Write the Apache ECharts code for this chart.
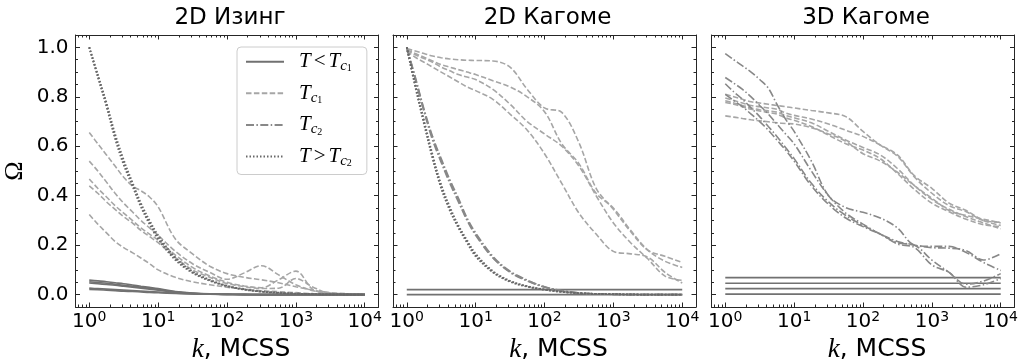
<!DOCTYPE html>
<html><head><meta charset="utf-8">
<script src="https://cdn.jsdelivr.net/npm/echarts@6/dist/echarts.min.js"></script>
<style>html,body{margin:0;padding:0;background:#fff}#c{width:1022px;height:362px}</style>
</head><body><div id="c"></div>
<script>
// ---- data ----
const K = [1, 1.33, 1.78, 2.37, 3.16, 4.22, 5.62, 7.5, 10, 17.8, 31.6, 56.2, 100, 178, 316, 562, 1000, 1780, 3160, 5620, 10000];
const K_FLAT = [1, 10000];
const TITLES = ['2D Изинг', '2D Кагоме', '3D Кагоме'];
const X_MAJOR = [1, 10, 100, 1000, 10000];
const X_MINOR = [0.7, 0.8, 0.9, 2, 3, 4, 5, 6, 7, 8, 9, 20, 30, 40, 50, 60, 70, 80, 90,
  200, 300, 400, 500, 600, 700, 800, 900, 2000, 3000, 4000, 5000, 6000, 7000, 8000, 9000];
const Y_MAJOR = [0, 0.2, 0.4, 0.6, 0.8, 1.0];
const Y_MINOR = [0.05, 0.1, 0.15, 0.25, 0.3, 0.35, 0.45, 0.5, 0.55, 0.65, 0.7, 0.75, 0.85, 0.9, 0.95];
const LEGEND_NAMES = ['lt', 'c1', 'c2', 'gt'];

// Panel 1: 2D Ising
const ising_lt = [
  [0.059, 0.056, 0.052, 0.048, 0.044, 0.039, 0.034, 0.029, 0.024, 0.012, 0.006, 0.003, 0.002, 0.001, 0, 0, 0, 0, 0, 0, 0],
  [0.052, 0.049, 0.046, 0.042, 0.038, 0.034, 0.030, 0.025, 0.021, 0.011, 0.005, 0.003, 0.001, 0.001, 0, 0, 0, 0, 0, 0, 0],
  [0.047, 0.044, 0.041, 0.038, 0.034, 0.030, 0.026, 0.022, 0.018, 0.010, 0.005, 0.002, 0.001, 0, 0, 0, 0, 0, 0, 0, 0],
  [0.026, 0.024, 0.022, 0.020, 0.018, 0.016, 0.014, 0.012, 0.010, 0.006, 0.003, 0.002, 0.001, 0, 0, 0, 0, 0, 0, 0, 0],
  [0.021, 0.020, 0.018, 0.016, 0.014, 0.013, 0.011, 0.009, 0.008, 0.005, 0.003, 0.002, 0.001, 0, 0, 0, 0, 0, 0, 0, 0]
];
const ising_c1 = [
  [0.656, 0.61, 0.565, 0.52, 0.475, 0.44, 0.42, 0.395, 0.355, 0.225, 0.165, 0.115, 0.085, 0.07, 0.06, 0.048, 0.032, 0.018, 0.008, 0.004, 0.002],
  [0.54, 0.50, 0.455, 0.41, 0.37, 0.335, 0.30, 0.27, 0.24, 0.175, 0.125, 0.09, 0.062, 0.088, 0.117, 0.08, 0.04, 0.016, 0.006, 0.003, 0.001],
  [0.468, 0.43, 0.395, 0.36, 0.33, 0.30, 0.27, 0.245, 0.22, 0.16, 0.11, 0.075, 0.05, 0.035, 0.028, 0.06, 0.095, 0.02, 0.006, 0.002, 0.001],
  [0.44, 0.41, 0.375, 0.345, 0.315, 0.29, 0.26, 0.235, 0.21, 0.15, 0.10, 0.07, 0.045, 0.032, 0.025, 0.026, 0.065, 0.03, 0.005, 0.002, 0.001],
  [0.324, 0.285, 0.25, 0.215, 0.19, 0.17, 0.148, 0.125, 0.10, 0.07, 0.052, 0.04, 0.03, 0.022, 0.016, 0.012, 0.008, 0.004, 0.002, 0.001, 0]
];
const ising_gt = [
  [1.0, 0.88, 0.76, 0.63, 0.525, 0.44, 0.355, 0.285, 0.225, 0.14, 0.088, 0.056, 0.034, 0.02, 0.012, 0.007, 0.004, 0.002, 0.001, 0.0005, 0],
  [1.0, 0.89, 0.775, 0.65, 0.545, 0.455, 0.37, 0.30, 0.24, 0.15, 0.094, 0.06, 0.036, 0.022, 0.013, 0.008, 0.004, 0.002, 0.001, 0.0005, 0],
  [1.0, 0.885, 0.768, 0.64, 0.535, 0.448, 0.362, 0.292, 0.232, 0.145, 0.091, 0.058, 0.035, 0.021, 0.012, 0.007, 0.004, 0.002, 0.001, 0.0005, 0]
];

// Panel 2: 2D Kagome
const kag2_lt = [
  [0.02, 0.02],
  [0.0, 0.0]
];
const kag2_c1 = [
  [0.995, 0.985, 0.975, 0.965, 0.958, 0.953, 0.95, 0.948, 0.947, 0.945, 0.92, 0.83, 0.755, 0.737, 0.615, 0.43, 0.345, 0.255, 0.18, 0.155, 0.13],
  [0.99, 0.975, 0.96, 0.945, 0.93, 0.92, 0.91, 0.90, 0.89, 0.865, 0.84, 0.80, 0.74, 0.61, 0.53, 0.41, 0.35, 0.26, 0.18, 0.135, 0.11],
  [0.99, 0.97, 0.955, 0.94, 0.92, 0.905, 0.89, 0.88, 0.87, 0.83, 0.77, 0.70, 0.65, 0.60, 0.52, 0.40, 0.29, 0.21, 0.145, 0.075, 0.058],
  [0.985, 0.96, 0.94, 0.92, 0.90, 0.88, 0.86, 0.84, 0.825, 0.79, 0.73, 0.665, 0.57, 0.45, 0.33, 0.245, 0.175, 0.165, 0.152, 0.09, 0.047]
];
const kag2_c2 = [
  [1.0, 0.88, 0.75, 0.64, 0.55, 0.465, 0.39, 0.31, 0.25, 0.155, 0.095, 0.059, 0.032, 0.017, 0.007, 0.003, 0.001, 0, 0, 0, 0],
  [1.0, 0.87, 0.74, 0.625, 0.535, 0.45, 0.375, 0.30, 0.24, 0.148, 0.09, 0.055, 0.03, 0.015, 0.006, 0.003, 0.001, 0, 0, 0, 0],
  [1.0, 0.875, 0.745, 0.633, 0.542, 0.458, 0.382, 0.305, 0.245, 0.151, 0.092, 0.057, 0.031, 0.016, 0.007, 0.003, 0.001, 0, 0, 0, 0]
];
const kag2_gt = [
  [1.0, 0.84, 0.69, 0.55, 0.43, 0.34, 0.27, 0.21, 0.155, 0.09, 0.052, 0.032, 0.02, 0.011, 0.006, 0.003, 0.002, 0.001, 0, 0, 0],
  [1.0, 0.85, 0.705, 0.565, 0.445, 0.355, 0.28, 0.22, 0.165, 0.095, 0.056, 0.034, 0.021, 0.012, 0.006, 0.003, 0.002, 0.001, 0, 0, 0],
  [1.0, 0.845, 0.697, 0.557, 0.437, 0.347, 0.275, 0.215, 0.16, 0.092, 0.054, 0.033, 0.02, 0.011, 0.006, 0.003, 0.002, 0.001, 0, 0, 0]
];

// Panel 3: 3D Kagome
const kag3_lt = [
  [0.069, 0.069],
  [0.046, 0.046],
  [0.024, 0.024],
  [0.002, 0.002]
];
const kag3_c1 = [
  [0.81, 0.80, 0.79, 0.78, 0.775, 0.77, 0.765, 0.76, 0.755, 0.745, 0.735, 0.72, 0.66, 0.605, 0.56, 0.475, 0.41, 0.36, 0.335, 0.30, 0.293],
  [0.795, 0.785, 0.775, 0.765, 0.76, 0.755, 0.75, 0.735, 0.725, 0.71, 0.69, 0.665, 0.64, 0.605, 0.565, 0.48, 0.43, 0.37, 0.34, 0.30, 0.28],
  [0.784, 0.775, 0.765, 0.755, 0.748, 0.743, 0.738, 0.725, 0.715, 0.695, 0.66, 0.625, 0.595, 0.565, 0.51, 0.44, 0.385, 0.345, 0.315, 0.29, 0.266],
  [0.777, 0.77, 0.76, 0.75, 0.743, 0.737, 0.73, 0.715, 0.705, 0.68, 0.645, 0.61, 0.585, 0.55, 0.49, 0.425, 0.37, 0.335, 0.305, 0.283, 0.275],
  [0.723, 0.718, 0.712, 0.707, 0.703, 0.699, 0.695, 0.692, 0.69, 0.675, 0.65, 0.62, 0.57, 0.54, 0.495, 0.44, 0.39, 0.34, 0.32, 0.305, 0.29]
];
const kag3_c2 = [
  [0.975, 0.95, 0.925, 0.90, 0.87, 0.835, 0.77, 0.71, 0.66, 0.54, 0.40, 0.352, 0.333, 0.31, 0.27, 0.20, 0.195, 0.195, 0.17, 0.13, 0.098],
  [0.878, 0.855, 0.83, 0.80, 0.765, 0.73, 0.69, 0.65, 0.61, 0.50, 0.40, 0.33, 0.285, 0.245, 0.21, 0.20, 0.14, 0.09, 0.042, 0.055, 0.085],
  [0.853, 0.82, 0.79, 0.755, 0.72, 0.68, 0.64, 0.595, 0.55, 0.45, 0.375, 0.32, 0.28, 0.245, 0.205, 0.19, 0.12, 0.09, 0.03, 0.04, 0.065],
  [0.81, 0.785, 0.76, 0.73, 0.70, 0.665, 0.625, 0.585, 0.54, 0.44, 0.365, 0.31, 0.275, 0.245, 0.215, 0.20, 0.19, 0.188, 0.178, 0.14, 0.165]
];

// ---- styling ----
const STYLE = {
  lt: { color: '#717171', width: 1.7, type: 'solid' },
  c1: { color: '#a6a6a6', width: 1.6, type: [5.5, 2.4] },
  c2: { color: '#888888', width: 1.6, type: [8, 2.4, 1.5, 2.4] },
  gt: { color: '#686868', width: 1.8, type: [1.5, 2.0] }
};
const LEGEND_TEXT = {
  lt: '{T0|T}{op|<}{T|T}{c|c}{n|1}',
  c1: '{T0|T}{c|c}{n|1}',
  c2: '{T0|T}{c|c}{n|2}',
  gt: '{T0|T}{op|>}{T|T}{c|c}{n|2}'
};
const AX = '#262626';
const XMIN = Math.pow(10, -0.2), XMAX = Math.pow(10, 4.2);
const YMIN = -0.05, YMAX = 1.05;
const GRID_LEFT = [75.5, 393, 711.5];
const GRID_W = 303, GRID_TOP = 35, GRID_H = 272;

const grids = [], xAxes = [], yAxes = [], titles = [], series = [];
for (let p = 0; p < 3; p++) {
  grids.push({ left: GRID_LEFT[p], top: GRID_TOP, width: GRID_W, height: GRID_H, outerBoundsMode: 'none', containLabel: false });
  titles.push({ text: TITLES[p], left: GRID_LEFT[p] + GRID_W / 2 - 2, top: 2, textAlign: 'center',
    textStyle: { fontFamily: 'DejaVu Sans', fontSize: 23, fontWeight: 'normal', color: '#000' } });
  const xBase = { type: 'log', logBase: 10, gridIndex: p, min: XMIN, max: XMAX, splitLine: { show: false }, minorTick: { show: false }, minorSplitLine: { show: false } };
  const yBase = { type: 'value', gridIndex: p, min: YMIN, max: YMAX, splitLine: { show: false }, minorTick: { show: false }, minorSplitLine: { show: false } };
  const tick = (vals, len) => ({ show: true, inside: true, length: len, customValues: vals, lineStyle: { color: AX, width: 1 } });
  xAxes.push(Object.assign({}, xBase, {
    position: 'bottom',
    axisLine: { show: true, onZero: false, lineStyle: { color: AX, width: 1 } },
    axisTick: tick(X_MAJOR, 4.5),
    axisLabel: { show: true, customValues: X_MAJOR, margin: 3, color: '#000',
      formatter: v => '{b|10}{e|' + Math.round(Math.log10(v)) + '}',
      rich: { b: { fontFamily: 'DejaVu Sans', fontSize: 20, color: '#000', lineHeight: 23 },
              e: { fontFamily: 'DejaVu Sans', fontSize: 14, color: '#000', verticalAlign: 'top', lineHeight: 12 } } },
    name: '{k|k}{t|, MCSS}', nameLocation: 'middle', nameGap: 27,
    nameTextStyle: { padding: [0, 0, 0, 28], rich: { k: { fontFamily: 'Liberation Serif', fontStyle: 'italic', fontSize: 27, color: '#000' },
                             t: { fontFamily: 'DejaVu Sans', fontSize: 25, color: '#000' } } }
  }));
  xAxes.push(Object.assign({}, xBase, { position: 'bottom', axisLine: { show: false, onZero: false }, axisTick: tick(X_MINOR, 2.5), axisLabel: { show: false } }));
  xAxes.push(Object.assign({}, xBase, { position: 'top', axisLine: { show: true, onZero: false, lineStyle: { color: AX, width: 1 } }, axisTick: tick(X_MAJOR, 4.5), axisLabel: { show: false } }));
  xAxes.push(Object.assign({}, xBase, { position: 'top', axisLine: { show: false, onZero: false }, axisTick: tick(X_MINOR, 2.5), axisLabel: { show: false } }));
  const yMain = Object.assign({}, yBase, {
    position: 'left',
    axisLine: { show: true, onZero: false, lineStyle: { color: AX, width: 1 } },
    axisTick: tick(Y_MAJOR, 4.5),
    axisLabel: { show: p === 0, customValues: Y_MAJOR, margin: 7, color: '#000', fontFamily: 'DejaVu Sans', fontSize: 20,
      formatter: v => v.toFixed(1) }
  });
  if (p === 0) {
    Object.assign(yMain, { name: 'Ω', nameLocation: 'middle', nameRotate: 90, nameGap: 47,
      nameTextStyle: { fontFamily: 'Liberation Serif', fontSize: 26, color: '#000' } });
  }
  yAxes.push(yMain);
  yAxes.push(Object.assign({}, yBase, { position: 'left', axisLine: { show: false, onZero: false }, axisTick: tick(Y_MINOR, 2.5), axisLabel: { show: false } }));
  yAxes.push(Object.assign({}, yBase, { position: 'right', axisLine: { show: true, onZero: false, lineStyle: { color: AX, width: 1 } }, axisTick: tick(Y_MAJOR, 4.5), axisLabel: { show: false } }));
  yAxes.push(Object.assign({}, yBase, { position: 'right', axisLine: { show: false, onZero: false }, axisTick: tick(Y_MINOR, 2.5), axisLabel: { show: false } }));
}

function addLines(p, name, xs, rows) {
  rows.forEach(ys => {
    series.push({
      type: 'line', name: name, xAxisIndex: p * 4, yAxisIndex: p * 4,
      data: xs.map((k, i) => [k, ys[i]]),
      symbol: 'none', showSymbol: false, smooth: 0.35, silent: true,
      lineStyle: STYLE[name], itemStyle: { color: STYLE[name].color }, color: STYLE[name].color,
      z: name === 'c1' ? 2 : 3
    });
  });
}
addLines(0, 'lt', K, ising_lt);
addLines(0, 'c1', K, ising_c1);
addLines(0, 'gt', K, ising_gt);
addLines(1, 'lt', K_FLAT, kag2_lt);
addLines(1, 'c1', K, kag2_c1);
addLines(1, 'c2', K, kag2_c2);
addLines(1, 'gt', K, kag2_gt);
addLines(2, 'lt', K_FLAT, kag3_lt);
addLines(2, 'c1', K, kag3_c1);
addLines(2, 'c2', K, kag3_c2);

const serif = { fontFamily: 'Liberation Serif', color: '#000' };
const chart = echarts.init(document.getElementById('c'), null, { renderer: 'canvas' });
chart.setOption({
  animation: false,
  backgroundColor: '#fff',
  title: titles,
  grid: grids,
  xAxis: xAxes,
  yAxis: yAxes,
  legend: {
    left: 237, top: 47, orient: 'vertical', itemWidth: 38, itemHeight: 14, itemGap: 7.6,
    padding: [2.7, 15, 6, 8], borderColor: '#cccccc', borderWidth: 1, borderRadius: 4,
    backgroundColor: 'rgba(255,255,255,0.8)', selectedMode: false, data: LEGEND_NAMES,
    itemStyle: { opacity: 0 },
    formatter: n => LEGEND_TEXT[n],
    textStyle: { color: '#000', rich: {
      T0: Object.assign({ fontStyle: 'italic', fontSize: 21, lineHeight: 24, height: 24, padding: [0, 0, 0, 10] }, serif),
      T: Object.assign({ fontStyle: 'italic', fontSize: 21, lineHeight: 24, height: 24 }, serif),
      op: Object.assign({ fontSize: 21, lineHeight: 24, height: 24, padding: [0, 3, 0, 3] }, serif),
      c: Object.assign({ fontStyle: 'italic', fontSize: 15, lineHeight: 10, verticalAlign: 'bottom' }, serif),
      n: Object.assign({ fontSize: 10, lineHeight: 4, verticalAlign: 'bottom' }, serif)
    } }
  },
  series: series
});
</script></body></html>
